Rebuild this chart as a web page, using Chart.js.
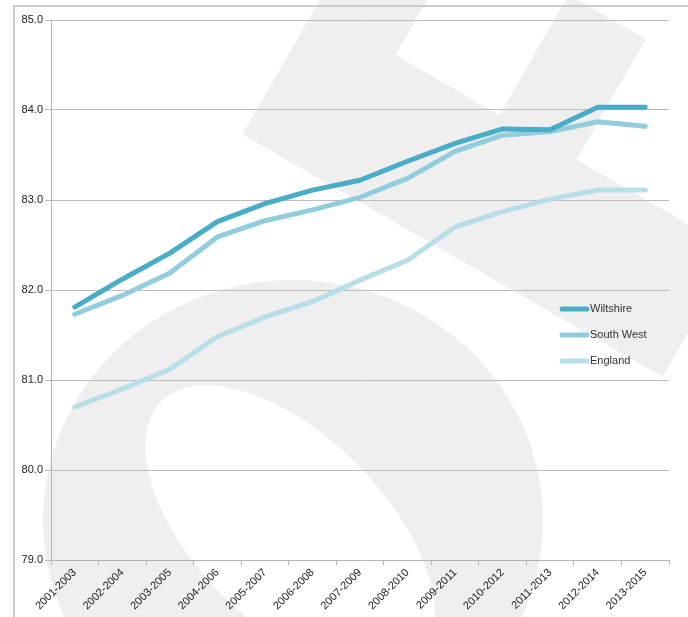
<!DOCTYPE html>
<html>
<head>
<meta charset="utf-8">
<script src="https://cdn.jsdelivr.net/npm/chart.js@4.4.1/dist/chart.umd.min.js"></script>
<style>
  html, body { margin: 0; padding: 0; background: #ffffff; }
  canvas { display: block; }
</style>
</head>
<body>
<canvas id="chart" width="688" height="617"></canvas>
<script>
// Three-year life expectancy periods
const categories = ['2001-2003', '2002-2004', '2003-2005', '2004-2006', '2005-2007', '2006-2008',
  '2007-2009', '2008-2010', '2009-2011', '2010-2012', '2011-2013', '2012-2014', '2013-2015'];

const wiltshire = [81.81, 82.12, 82.41, 82.76, 82.96, 83.11, 83.22, 83.43, 83.63, 83.79, 83.78, 84.03, 84.03];
const southWest = [81.73, 81.94, 82.19, 82.59, 82.77, 82.89, 83.03, 83.24, 83.54, 83.72, 83.76, 83.87, 83.82];
const england   = [80.70, 80.90, 81.12, 81.48, 81.70, 81.87, 82.11, 82.33, 82.70, 82.87, 83.01, 83.11, 83.11];

const seriesNames = ['Wiltshire', 'South West', 'England'];
const seriesColors = ['#4aadc7', '#92cddd', '#b8dee8'];

const yMin = 79.0;
const yMax = 85.0;
const yStep = 1.0;

const FONT = '"Liberation Sans", Arial, sans-serif';

// Light grey emblem behind the plot, plus the page frame
const backdrop = {
  id: 'backdrop',
  beforeDraw(chart) {
    const ctx = chart.ctx;
    ctx.save();
    ctx.fillStyle = '#efefef';

    // ring
    ctx.beginPath();
    ctx.ellipse(293, 520, 250, 240, 0, 0, Math.PI * 2);
    ctx.ellipse(290, 530, 182, 94, Math.PI / 4, 0, Math.PI * 2);
    ctx.fill('evenodd');

    // tilted block shape, drawn in a frame rotated by 30 degrees
    ctx.save();
    ctx.rotate(Math.PI / 6);
    ctx.beginPath();
    ctx.rect(277, -150, 485, 145);   // long bar
    ctx.rect(277, -450, 93, 300);    // left upright
    ctx.rect(490, -289, 89, 139);    // short right block
    ctx.fill();
    ctx.restore();

    // frame
    ctx.strokeStyle = '#cccccc';
    ctx.lineWidth = 2;
    ctx.beginPath();
    ctx.moveTo(14, 617);
    ctx.lineTo(14, 6);
    ctx.lineTo(688, 6);
    ctx.stroke();
    ctx.restore();
  }
};

// Legend drawn inside the plot area, to the right
const insideLegend = {
  id: 'insideLegend',
  afterDraw(chart) {
    const ctx = chart.ctx;
    const area = chart.chartArea;
    const x0 = area.right - 107;
    const y0 = area.top + 289;
    ctx.save();
    ctx.font = '11px ' + FONT;
    ctx.textBaseline = 'middle';
    ctx.textAlign = 'left';
    chart.data.datasets.forEach((ds, i) => {
      const y = y0 + i * 26;
      ctx.strokeStyle = ds.borderColor;
      ctx.lineWidth = 5;
      ctx.lineCap = 'round';
      ctx.beginPath();
      ctx.moveTo(x0, y);
      ctx.lineTo(x0 + 25, y);
      ctx.stroke();
      ctx.fillStyle = '#333333';
      ctx.fillText(ds.label, x0 + 28, y);
    });
    ctx.restore();
  }
};

const seriesData = [wiltshire, southWest, england];

new Chart(document.getElementById('chart'), {
  type: 'line',
  data: {
    labels: categories,
    datasets: seriesNames.map((name, i) => ({
      label: name,
      data: seriesData[i],
      order: i,
      borderColor: seriesColors[i],
      backgroundColor: seriesColors[i],
      borderWidth: 5,
      borderCapStyle: 'round',
      borderJoinStyle: 'round',
      pointRadius: 0,
      pointHoverRadius: 0,
      tension: 0,
      fill: false
    }))
  },
  options: {
    responsive: false,
    devicePixelRatio: 1,
    animation: false,
    layout: { padding: { left: 0, top: 20, right: 19, bottom: 0 } },
    plugins: {
      legend: { display: false },
      tooltip: { enabled: false }
    },
    scales: {
      x: {
        offset: true,
        grid: {
          offset: true,
          drawOnChartArea: false,
          drawTicks: true,
          tickLength: 5,
          color: '#b4b4b4'
        },
        border: { display: true, color: '#b4b4b4', width: 1 },
        ticks: {
          minRotation: 45,
          maxRotation: 45,
          autoSkip: false,
          padding: 1,
          color: '#1a1a1a',
          font: { family: FONT, size: 11 }
        },
        afterFit(scale) { scale.height = 57; }
      },
      y: {
        min: yMin,
        max: yMax,
        grid: {
          color: '#bdbdbd',
          lineWidth: 1,
          tickLength: 6,
          drawTicks: true
        },
        border: { display: true, color: '#b4b4b4', width: 1 },
        ticks: {
          stepSize: yStep,
          padding: 2,
          color: '#1a1a1a',
          font: { family: FONT, size: 11 },
          callback: (v) => Number(v).toFixed(1)
        },
        afterFit(scale) { scale.width = 51; }
      }
    }
  },
  plugins: [backdrop, insideLegend]
});
</script>
</body>
</html>
